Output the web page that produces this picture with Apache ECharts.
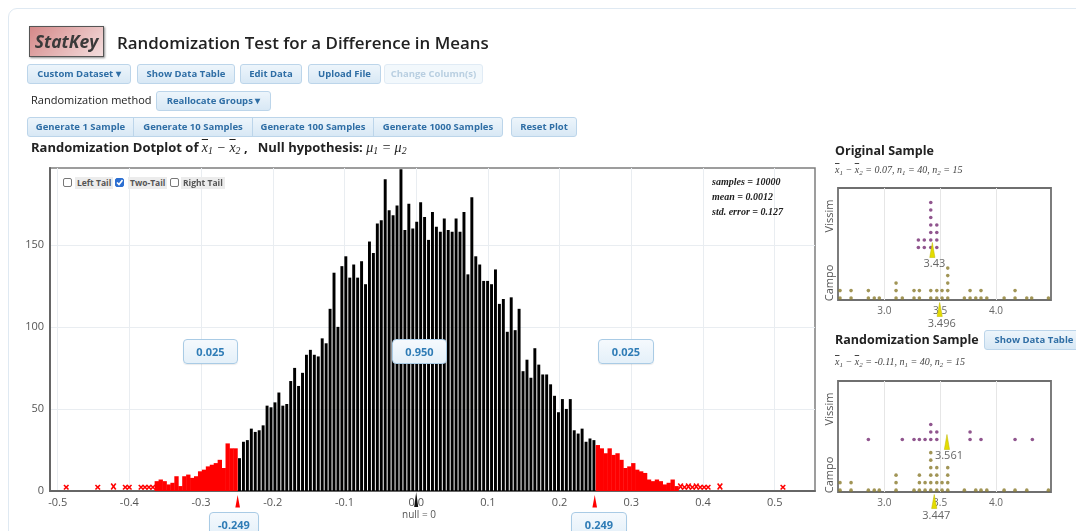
<!DOCTYPE html>
<html><head><meta charset="utf-8"><title>StatKey Randomization Test</title>
<script src="https://cdn.jsdelivr.net/npm/echarts@6.0.0/dist/echarts.min.js"></script>
<style>
*{box-sizing:border-box}
html,body{margin:0;padding:0;width:1076px;height:531px;overflow:hidden;background:#fff;font-family:'Open Sans',sans-serif;color:#222}
#panel{position:absolute;left:8px;top:8px;width:1200px;height:700px;border:1.5px solid #dfe9f2;border-radius:9px}
#chart{position:absolute;left:0;top:0;width:1076px;height:531px}
.a{position:absolute;white-space:nowrap}
.btn{position:absolute;height:20px;border:1px solid #bcd5ea;border-radius:3px;background:linear-gradient(#edf5fb,#d8e8f5);color:#2f6ea5;font:700 9.5px/18px 'Open Sans',sans-serif;text-align:center;white-space:nowrap}
.btn.dis{color:#b9cfe1;background:#f2f8fc;border-color:#e0ebf5}
.g{border-radius:0}
.gl{border-radius:3px 0 0 3px}
.gr{border-radius:0 3px 3px 0}
.box{position:absolute;border:1px solid #a9cbe5;border-radius:4px;background:linear-gradient(#f5f9fd,#e4f0f9);color:#2f7cb6;font:700 11px/23px 'Open Sans',sans-serif;text-align:center;box-shadow:0 1px 1px rgba(0,0,0,.08)}
.m{font-family:'Liberation Serif','DejaVu Serif',serif;font-style:italic}
.ov{text-decoration:overline}
sub{font-size:70%;vertical-align:-2px;line-height:0}
.cb{position:absolute;width:9px;height:9px;border:1px solid #777;border-radius:2px;background:#fff}
.cb.on{background:#2c6fd1;border-color:#2c6fd1}
.cl{position:absolute;background:#ececec;color:#555;font:700 8.5px/12px 'Open Sans',sans-serif;padding:0 2px;white-space:nowrap}
.st{position:absolute;left:712px;font:italic 700 10px/12px 'Liberation Serif',serif;color:#222;white-space:nowrap}
.sub2{position:absolute;font:italic 10px/12px 'Liberation Serif',serif;color:#444;white-space:nowrap}
.h2{position:absolute;font:700 12.5px/16px 'Open Sans',sans-serif;color:#222;white-space:nowrap}
</style></head><body>
<div id="panel"></div>
<div id="chart"></div>

<div class="a" style="left:29px;top:26px;width:75px;height:31px;border:1.5px solid #555;background:linear-gradient(135deg,#d48888,#f4dede);box-shadow:1px 1px 2px rgba(0,0,0,.45);font:italic 700 17.5px/28px 'Open Sans',sans-serif;color:#3a3a3a;text-align:center">StatKey</div>
<div class="a" style="left:117px;top:31px;font:600 16.9px/23px 'Open Sans',sans-serif;color:#222">Randomization Test for a Difference in Means</div>

<div class="btn" style="left:27px;top:64px;width:104px">Custom Dataset &#9662;</div>
<div class="btn" style="left:137px;top:64px;width:98px">Show Data Table</div>
<div class="btn" style="left:240px;top:64px;width:62px">Edit Data</div>
<div class="btn" style="left:308px;top:64px;width:73px">Upload File</div>
<div class="btn dis" style="left:384px;top:64px;width:99px">Change Column(s)</div>

<div class="a" style="left:31px;top:93px;font:11px/14px 'Open Sans',sans-serif;color:#222">Randomization method</div>
<div class="btn" style="left:156px;top:91px;width:115px">Reallocate Groups &#9662;</div>

<div class="btn gl" style="left:27px;top:117px;width:107px">Generate 1 Sample</div>
<div class="btn g" style="left:133px;top:117px;width:120px">Generate 10 Samples</div>
<div class="btn g" style="left:252px;top:117px;width:122px">Generate 100 Samples</div>
<div class="btn gr" style="left:373px;top:117px;width:130px">Generate 1000 Samples</div>
<div class="btn" style="left:511px;top:117px;width:66px">Reset Plot</div>

<div class="a" style="left:31px;top:139px;font:700 13px/17px 'Open Sans',sans-serif;color:#222">Randomization Dotplot of <span class="m" style="font-weight:400;font-size:14px"><span class="ov">x</span><sub>1</sub> − <span class="ov">x</span><sub>2</sub></span> ,&nbsp;&nbsp; Null hypothesis: <span class="m" style="font-weight:400;font-size:14px">μ<sub>1</sub> = μ<sub>2</sub></span></div>

<div class="cb" style="left:63px;top:178px"></div>
<div class="cl" style="left:75px;top:177px">Left Tail</div>
<div class="cb on" style="left:115px;top:178px"><svg width="7" height="7" style="position:absolute;left:0;top:0"><path d="M1 3.5 L3 5.5 L6.5 1" stroke="#fff" stroke-width="1.6" fill="none"/></svg></div>
<div class="cl" style="left:128px;top:177px">Two-Tail</div>
<div class="cb" style="left:170px;top:178px"></div>
<div class="cl" style="left:181px;top:177px">Right Tail</div>

<div class="st" style="top:176px">samples = 10000</div>
<div class="st" style="top:191px">mean = 0.0012</div>
<div class="st" style="top:206px">std. error = 0.127</div>

<div class="box" style="left:183px;top:339px;width:55px;height:25px">0.025</div>
<div class="box" style="left:392px;top:339px;width:55px;height:25px">0.950</div>
<div class="box" style="left:598px;top:339px;width:56px;height:25px">0.025</div>
<div class="box" style="left:209px;top:512px;width:50px;height:25px">-0.249</div>
<div class="box" style="left:571px;top:512px;width:56px;height:25px">0.249</div>
<div class="a" style="left:398px;top:508px;width:42px;text-align:center;font:10px/12px 'Open Sans',sans-serif;color:#555">null = 0</div>

<div class="h2" style="left:835px;top:143px">Original Sample</div>
<div class="sub2" style="left:835px;top:164px"><span class="ov">x</span><sub>1</sub> − <span class="ov">x</span><sub>2</sub> = 0.07, n<sub>1</sub> = 40, n<sub>2</sub> = 15</div>
<div class="h2" style="left:835px;top:332px">Randomization Sample</div>
<div class="btn" style="left:984px;top:330px;width:100px">Show Data Table</div>
<div class="sub2" style="left:835px;top:356px"><span class="ov">x</span><sub>1</sub> − <span class="ov">x</span><sub>2</sub> = -0.11, n<sub>1</sub> = 40, n<sub>2</sub> = 15</div>

<script>
// ---------- data ----------
const xTickValues = [-0.5, -0.4, -0.3, -0.2, -0.1, 0, 0.1, 0.2, 0.3, 0.4, 0.5];
const yTickValues = [0, 50, 100, 150];
const binWidth = 0.005492;          // width of one dotplot bin
const binZeroCenter = -0.02124;     // centre of bin index 0
const firstBin = -66;               // bin index of counts[0]
const counts = [
  1,1,1,1,
  6,7,6,4,5,9,3,9,10,8,9,12,13,15,16,17,19,14,29,26,26,
  20,30,31,38,36,37,40,52,51,54,60,52,53,67,75,64,72,83,86,83,82,93,90,111,133,100,137,143,130,138,130,140,126,152,145,163,165,190,171,168,174,
  196,
  159,175,160,164,176,167,153,170,161,158,166,159,158,166,158,170,132,179,143,138,128,128,126,135,114,117,97,118,98,111,
  73,80,69,87,77,71,71,65,58,48,56,50,56,37,35,38,30,32,31,
  28,26,23,26,22,23,19,14,15,17,13,12,11,7,6,7,6,4,5,7,3,2,1,2,1,2,1,1,1,0,0,2,0
];
const isolatedBins = [[-85, 1], [-77, 1], [-73, 2], [-70, 1], [-69, 1], [97, 1]];
const cutoffs = [-0.249, 0.249];
const nullValue = 0;

const sampleTicks = [3.0, 3.5, 4.0];
const groups = ['Vissim', 'Campo'];
const origVissim = [[3.305,2],[3.358,2],[3.416,7],[3.47,4]];
const origCampo = [[2.603,2],[2.702,2],[2.857,2],[2.91,1],[2.955,1],[3.105,3],[3.161,1],[3.266,2],[3.314,2],[3.416,2],[3.47,2],[3.517,2],[3.568,5],[3.717,1],[3.768,2],[3.819,1],[3.866,2],[3.918,1],[4.073,1],[4.171,2],[4.276,1],[4.32,1],[4.47,1]];
const randVissim = [[2.857,1],[3.161,1],[3.266,1],[3.314,1],[3.365,1],[3.416,3],[3.47,2],[3.768,2],[3.866,1],[4.171,1],[4.326,1]];
const randCampo = [[2.603,2],[2.702,2],[2.857,1],[2.91,1],[2.955,1],[3.105,3],[3.266,1],[3.314,3],[3.365,2],[3.416,6],[3.47,4],[3.517,2],[3.568,4],[3.717,1],[3.819,1],[3.866,1],[3.918,1],[4.073,1],[4.171,1],[4.276,1],[4.47,1]];
const origMeans = [3.43, 3.496];   // Vissim, Campo
const randMeans = [3.561, 3.447];  // Vissim, Campo

// ---------- build ----------
const FONT = 'Open Sans';
const bars = [], marks = [];
counts.forEach((n, i) => {
  if (!n) return;
  const c = binZeroCenter + (firstBin + i) * binWidth;
  const tail = (c < cutoffs[0] || c > cutoffs[1]) ? 1 : 0;
  if (tail && n <= 2) marks.push([c, n]); else bars.push([c, n, tail]);
});
isolatedBins.forEach(([m, n]) => marks.push([binZeroCenter + m * binWidth, n]));

const campoBase = 0.25, vissimBase = 7.0;
function stackDots(cols, base) {
  const out = [];
  cols.forEach(([v, n]) => { for (let k = 0; k < n; k++) out.push([v, base + k]); });
  return out;
}

function histItem(params, api) {
  const c = api.value(0), n = api.value(1), tail = api.value(2);
  const p0 = api.coord([c - binWidth / 2, 0]);
  const p1 = api.coord([c + binWidth / 2, n]);
  let x = p0[0], w = p1[0] - p0[0];
  if (tail) { x -= 0.2; w += 0.4; } else { x += 0.5; w -= 1; }
  return { type: 'rect', shape: { x: x, y: p1[1], width: w, height: p0[1] - p1[1] },
           style: { fill: tail ? '#ff0000' : '#000000' } };
}
function markItem(params, api) {
  const p = api.coord([api.value(0), 0]);
  const h = api.value(1) > 1 ? 6 : 4.5, w = 2.3, y0 = p[1] - 1.5;
  const st = { stroke: '#ff0000', lineWidth: 1.6 };
  return { type: 'group', children: [
    { type: 'line', shape: { x1: p[0] - w, y1: y0, x2: p[0] + w, y2: y0 - h }, style: st },
    { type: 'line', shape: { x1: p[0] - w, y1: y0 - h, x2: p[0] + w, y2: y0 }, style: st }
  ]};
}
function pointerItem(color, top, bottom, half) {
  return function (params, api) {
    const p = api.coord([api.value(0), 0]);
    return { type: 'polygon', shape: { points: [[p[0], p[1] + top], [p[0] - half, p[1] + bottom], [p[0] + half, p[1] + bottom]] },
             style: { fill: color } };
  };
}
function meanItem(params, api) {
  const v = api.value(0), g = api.value(1);
  const base = g === 0 ? vissimBase : 0;
  const p = api.coord([v, base]);
  let apex, bot, ly;
  if (g === 0) { apex = p[1] - 5; bot = p[1] + 10; ly = p[1] + 16.5; }
  else { apex = p[1] + 2.5; bot = p[1] + 16.5; ly = p[1] + 23.5; }
  return { type: 'group', children: [
    { type: 'polygon', z2: 5, shape: { points: [[p[0], apex], [p[0] - 2.6, bot], [p[0] + 2.6, bot]] },
      style: { fill: '#e4dc00', stroke: '#bdb400', lineWidth: 0.5 } },
    { type: 'text', z2: 6, x: p[0] + 2, y: ly, style: { text: String(v), fill: '#666', font: '11px ' + FONT, align: 'center', verticalAlign: 'middle' } }
  ]};
}

const smallX = (gi) => ({
  gridIndex: gi, type: 'value', min: 2.585, max: 4.493,
  axisLine: { show: false }, axisTick: { show: false, customValues: sampleTicks },
  axisLabel: { customValues: sampleTicks, formatter: v => v.toFixed(1), color: '#666', fontSize: 10, fontFamily: FONT, margin: 6 },
  splitLine: { show: true, lineStyle: { color: '#e6e6e6' } }
});

const option = {
  animation: false,
  grid: [
    { left: 50, top: 168, width: 765, height: 323, show: true, borderColor: '#7d7d7d', borderWidth: 1.5 },
    { left: 838, top: 188, width: 213, height: 112, show: true, borderColor: '#6f6f6f', borderWidth: 1.8 },
    { left: 838, top: 381, width: 213, height: 111, show: true, borderColor: '#6f6f6f', borderWidth: 1.8 }
  ],
  xAxis: [
    { gridIndex: 0, type: 'value', min: -0.5107, max: 0.5562,
      axisLine: { show: true, onZero: false, lineStyle: { color: '#666', width: 2 } },
      axisTick: { show: false, customValues: xTickValues },
      axisLabel: { customValues: xTickValues, formatter: v => v.toFixed(1), color: '#555', fontSize: 11, fontFamily: FONT, margin: 6 },
      splitLine: { show: true, lineStyle: { color: '#e9edf1' } } },
    smallX(1), smallX(2)
  ],
  yAxis: [
    { gridIndex: 0, type: 'value', min: 0, max: 196.8,
      axisLine: { show: true, onZero: false, lineStyle: { color: '#666', width: 2 } },
      axisTick: { show: false, customValues: yTickValues },
      axisLabel: { customValues: yTickValues, color: '#555', fontSize: 11, fontFamily: FONT, margin: 6 },
      splitLine: { show: true, lineStyle: { color: '#e9edf1' } } },
    { gridIndex: 1, type: 'value', min: 0, max: 14.93, show: false },
    { gridIndex: 2, type: 'value', min: 0, max: 14.8, show: false }
  ],
  graphic: [
    { type: 'text', x: 830, y: 216, rotation: Math.PI / 2, style: { text: groups[0], fill: '#555', font: '11px ' + FONT, align: 'center', verticalAlign: 'middle' } },
    { type: 'text', x: 830, y: 283, rotation: Math.PI / 2, style: { text: groups[1], fill: '#555', font: '11px ' + FONT, align: 'center', verticalAlign: 'middle' } },
    { type: 'text', x: 830, y: 409, rotation: Math.PI / 2, style: { text: groups[0], fill: '#555', font: '11px ' + FONT, align: 'center', verticalAlign: 'middle' } },
    { type: 'text', x: 830, y: 475, rotation: Math.PI / 2, style: { text: groups[1], fill: '#555', font: '11px ' + FONT, align: 'center', verticalAlign: 'middle' } }
  ],
  series: [
    { type: 'custom', name: 'bins', xAxisIndex: 0, yAxisIndex: 0, data: bars, renderItem: histItem, encode: { x: 0, y: 1 } },
    { type: 'custom', name: 'singles', xAxisIndex: 0, yAxisIndex: 0, data: marks, renderItem: markItem, encode: { x: 0, y: 1 } },
    { type: 'custom', name: 'cutoffs', xAxisIndex: 0, yAxisIndex: 0, clip: false, z: 5, data: cutoffs.map(v => [v, 0]), renderItem: pointerItem('#ff0000', 4, 16.5, 2.3), encode: { x: 0, y: 1 } },
    { type: 'custom', name: 'null', xAxisIndex: 0, yAxisIndex: 0, clip: false, z: 5, data: [[nullValue, 0]], renderItem: pointerItem('#111111', 1, 16, 2), encode: { x: 0, y: 1 } },
    { type: 'scatter', xAxisIndex: 1, yAxisIndex: 1, symbolSize: 3.6, itemStyle: { color: '#742a72' }, data: stackDots(origVissim, vissimBase) },
    { type: 'scatter', xAxisIndex: 1, yAxisIndex: 1, symbolSize: 3.6, itemStyle: { color: '#8a7b2c' }, data: stackDots(origCampo, campoBase) },
    { type: 'scatter', xAxisIndex: 2, yAxisIndex: 2, symbolSize: 3.6, itemStyle: { color: '#742a72' }, data: stackDots(randVissim, vissimBase) },
    { type: 'scatter', xAxisIndex: 2, yAxisIndex: 2, symbolSize: 3.6, itemStyle: { color: '#8a7b2c' }, data: stackDots(randCampo, campoBase) },
    { type: 'custom', xAxisIndex: 1, yAxisIndex: 1, clip: false, z: 6, data: origMeans.map((v, g) => [v, g]), renderItem: meanItem, encode: { x: 0 } },
    { type: 'custom', xAxisIndex: 2, yAxisIndex: 2, clip: false, z: 6, data: randMeans.map((v, g) => [v, g]), renderItem: meanItem, encode: { x: 0 } }
  ]
};
const chart = echarts.init(document.getElementById('chart'));
chart.setOption(option);
</script>
</body></html>
